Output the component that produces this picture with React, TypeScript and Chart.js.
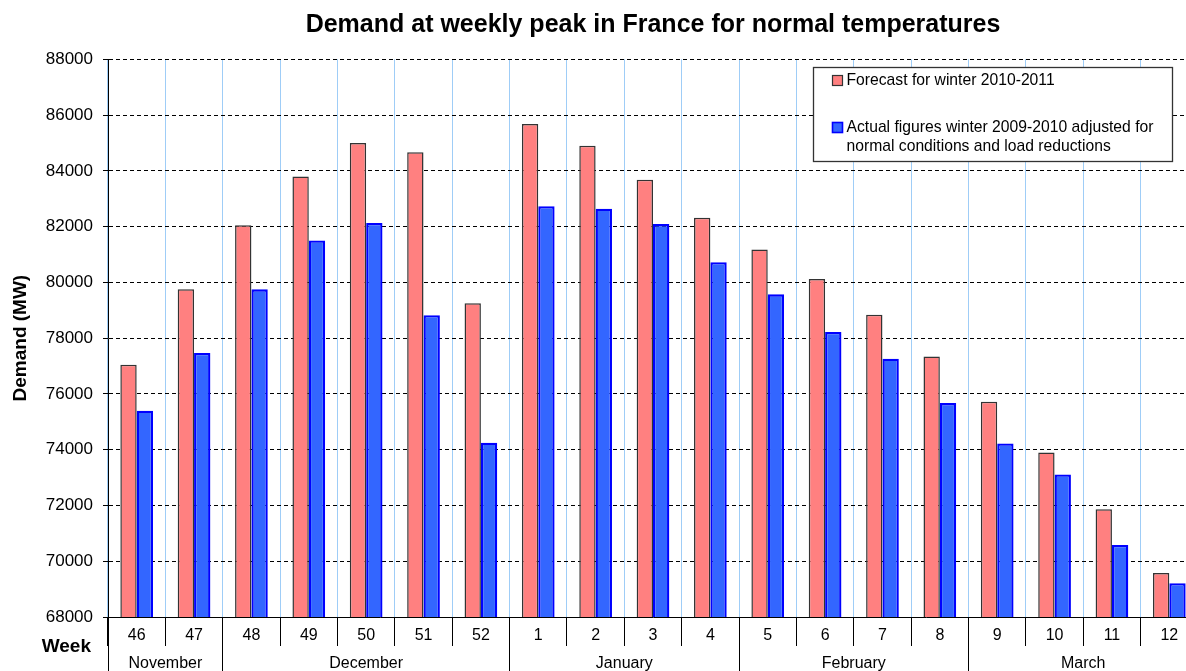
import React, { useEffect, useRef } from 'react';
import { Chart, registerables } from 'chart.js';

Chart.register(...registerables);

const FONT = "'Liberation Sans', Arial, Helvetica, sans-serif";

const TITLE = 'Demand at weekly peak in France for normal temperatures';
const Y_TITLE = 'Demand (MW)';
const X_TITLE = 'Week';

const weeks = ['46', '47', '48', '49', '50', '51', '52', '1', '2', '3', '4', '5', '6', '7', '8', '9', '10', '11', '12'];
const months = ['November', 'December', 'January', 'February', 'March'];
const weeksPerMonth = [2, 5, 4, 4, 4];

const forecastLabel = 'Forecast for winter 2010-2011';
const forecast2010 = [77050, 79750, 82050, 83800, 85000, 84670, 79250, 85680, 84900, 83680, 82320, 81180, 80120, 78840, 77340, 75720, 73900, 71860, 69580];

const actualLabel = 'Actual figures winter 2009-2010 adjusted for normal conditions and load reductions';
const actual2009 = [75400, 77470, 79750, 81500, 82130, 78820, 74250, 82730, 82640, 82090, 80720, 79570, 78220, 77260, 75670, 74220, 73110, 70580, 69210];

const yMin = 68000;
const yMax = 88000;
const yStep = 2000;

function wrapText(ctx: CanvasRenderingContext2D, text: string, maxWidth: number): string[] {
  const words = text.split(' ');
  const lines: string[] = [];
  let cur = '';
  for (const w of words) {
    const test = cur ? cur + ' ' + w : w;
    if (cur && ctx.measureText(test).width > maxWidth) {
      lines.push(cur);
      cur = w;
    } else {
      cur = test;
    }
  }
  if (cur) lines.push(cur);
  return lines;
}

const align = (px: number) => Math.round(px - 0.5) + 0.5;

const monthRowPlugin = {
  id: 'monthRow',
  afterDraw(chart: any) {
    const { ctx, chartArea, scales } = chart;
    const x = scales.x;
    const n = weeks.length;
    const cw = (x.right - x.left) / n;
    ctx.save();
    ctx.strokeStyle = '#000';
    ctx.lineWidth = 1;
    ctx.fillStyle = '#000';
    ctx.font = `16px ${FONT}`;
    ctx.textAlign = 'center';
    ctx.textBaseline = 'middle';
    let start = 0;
    const drawSep = (px: number) => {
      const xx = align(px);
      ctx.beginPath();
      ctx.moveTo(xx, chartArea.bottom);
      ctx.lineTo(xx, chart.height);
      ctx.stroke();
    };
    months.forEach((m, i) => {
      const count = weeksPerMonth[i];
      const x0 = x.left + start * cw;
      const x1 = x.left + (start + count) * cw;
      drawSep(x0);
      ctx.fillText(m, (x0 + x1) / 2, chartArea.bottom + 47);
      start += count;
    });
    drawSep(x.left + start * cw);
    ctx.font = `bold 19px ${FONT}`;
    ctx.textAlign = 'right';
    ctx.fillText(X_TITLE, x.left - 17, chartArea.bottom + 30);
    ctx.restore();
  },
};

const boxLegendPlugin = {
  id: 'boxLegend',
  afterDraw(chart: any) {
    const { ctx, chartArea } = chart;
    const left = Math.round(chartArea.right - 385) + 0.5;
    const top = Math.round(chartArea.top + 8) + 0.5;
    const w = 359;
    const h = 94;
    ctx.save();
    ctx.fillStyle = '#fff';
    ctx.fillRect(left, top, w, h);
    ctx.strokeStyle = '#333';
    ctx.lineWidth = 1.3;
    ctx.strokeRect(left, top, w, h);
    ctx.font = `15.7px ${FONT}`;
    ctx.textAlign = 'left';
    ctx.textBaseline = 'middle';
    const itemY = [13, 60];
    chart.data.datasets.forEach((ds: any, i: number) => {
      const y0 = top + itemY[i];
      ctx.fillStyle = ds.backgroundColor;
      ctx.fillRect(left + 19, y0 - 5, 10, 10);
      ctx.strokeStyle = ds.borderColor;
      ctx.lineWidth = i === 0 ? 1.2 : 1.6;
      ctx.strokeRect(left + 19, y0 - 5, 10, 10);
      ctx.fillStyle = '#000';
      const lines = wrapText(ctx, ds.label, 318);
      lines.forEach((ln, j) => ctx.fillText(ln, left + 33, y0 + j * 19));
    });
    ctx.restore();
  },
};

export default function App() {
  const canvasRef = useRef<HTMLCanvasElement | null>(null);

  useEffect(() => {
    if (!canvasRef.current) return;
    const chart = new Chart(canvasRef.current, {
      type: 'bar',
      data: {
        labels: weeks,
        datasets: [
          {
            label: forecastLabel,
            data: forecast2010,
            backgroundColor: '#ff8080',
            borderColor: '#333333',
            borderWidth: 1.5,
            categoryPercentage: 0.57,
            barPercentage: 1.0,
          },
          {
            label: actualLabel,
            data: actual2009,
            backgroundColor: '#3366ff',
            borderColor: '#0000ff',
            borderWidth: 2.3,
            categoryPercentage: 0.57,
            barPercentage: 1.0,
          },
        ],
      },
      options: {
        responsive: false,
        animation: false,
        layout: { padding: { left: 0, right: 0, top: 0, bottom: 0 } },
        font: { family: FONT },
        plugins: {
          legend: { display: false },
          tooltip: { enabled: false },
          title: {
            display: true,
            text: TITLE,
            fullSize: false,
            color: '#000',
            font: { family: FONT, size: 25, weight: 'bold' },
            padding: { top: 10, bottom: 19.3 },
          },
        },
        scales: {
          x: {
            offset: true,
            grid: {
              color: '#9fcdf7',
              lineWidth: 1,
              offset: true,
              drawTicks: true,
              tickLength: 29,
              tickColor: '#000',
            },
            border: { color: '#000', width: 1 },
            ticks: {
              color: '#000',
              font: { family: FONT, size: 16 },
              padding: -20,
              autoSkip: false,
              maxRotation: 0,
              minRotation: 0,
            },
            afterFit(s: any) {
              s.height = 73;
            },
          },
          y: {
            min: yMin,
            max: yMax,
            ticks: {
              stepSize: yStep,
              color: '#000',
              font: { family: FONT, size: 17 },
              padding: 10,
              callback: (v: any) => String(v),
            },
            grid: { color: '#000', tickColor: '#000', tickLength: 5, lineWidth: 1 },
            border: { color: '#000', width: 1, dash: [4, 3] },
            title: {
              display: true,
              text: Y_TITLE,
              color: '#000',
              font: { family: FONT, size: 19, weight: 'bold' },
              padding: { top: 9, bottom: 0 },
            },
            afterFit(s: any) {
              s.width = 108;
            },
          },
        },
      },
      plugins: [monthRowPlugin, boxLegendPlugin],
    } as any);
    return () => chart.destroy();
  }, []);

  return (
    <div style={{ position: 'fixed', left: 0, top: 0, width: 1186, height: 671, overflow: 'hidden', background: '#fff' }}>
      <canvas ref={canvasRef} width={1198} height={690} style={{ display: 'block' }} />
    </div>
  );
}
